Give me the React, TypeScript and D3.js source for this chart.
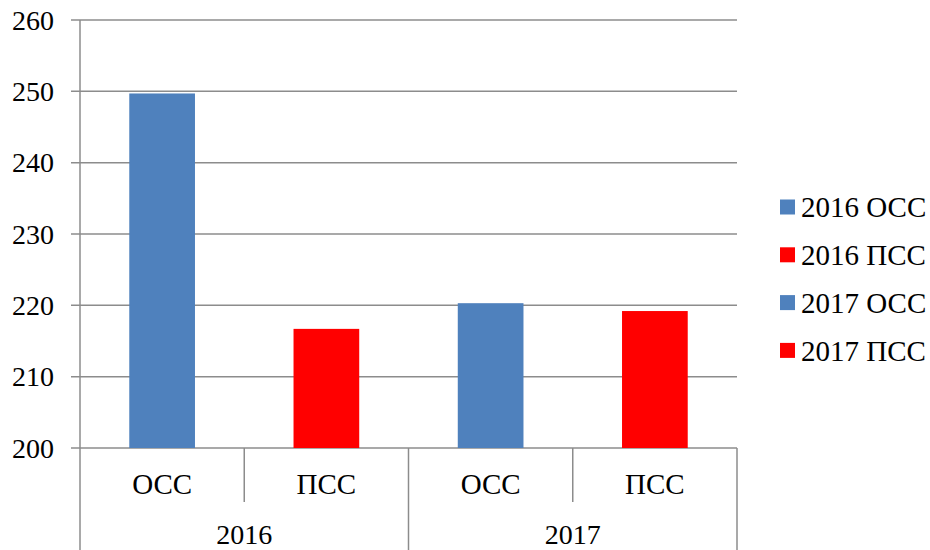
import React from 'react';
import * as d3 from 'd3';

const years = ["2016", "2017"];
const types = ["ОСС", "ПСС"];
const values = [249.7, 216.7, 220.3, 219.2];
const seriesNames = ["2016 ОСС", "2016 ПСС", "2017 ОСС", "2017 ПСС"];
const yTicks = [200, 210, 220, 230, 240, 250, 260];

const BLUE = "#4f81bd";
const RED = "#ff0000";
const GRID = "#8c8c8c";
const FONT = "Liberation Serif";

export default function App() {
    const width = 930, height = 550;
    const left = 80, right = 737, top = 20, bottom = 448;

    // categories: year x type
    const cats = years.flatMap(y => types.map(t => `${y}|${t}`));
    const x = d3.scaleBand().domain(cats).range([left, right]).padding(0);
    const y = d3.scaleLinear().domain([200, 260]).range([bottom, top]);
    const barW = x.bandwidth() * 0.4;
    const bounds = d3.range(cats.length + 1).map(i => left + i * x.step());

    return (
        <div style={{ position: "absolute", left: 0, top: 0 }}>
            <svg width={width} height={height} style={{ display: "block", background: "#fff" }}>
                {/* Grid */}
                {yTicks.map(t => (
                    <line key={t} x1={left - 9} x2={right} y1={y(t)} y2={y(t)} stroke={GRID} strokeWidth={1.5} />
                ))}
                {/* Y labels */}
                {yTicks.map(t => (
                    <text key={t} x={54} y={y(t)} dy="0.35em" textAnchor="end" fontFamily={FONT} fontSize={28}>{t}</text>
                ))}
                {/* Bars */}
                {values.map((v, i) => (
                    <rect key={i}
                        x={x(cats[i])! + (x.bandwidth() - barW) / 2}
                        y={y(v)}
                        width={barW}
                        height={y(200) - y(v)}
                        fill={i % 2 === 0 ? BLUE : RED} />
                ))}
                {/* Y axis */}
                <line x1={left} x2={left} y1={top} y2={bottom} stroke={GRID} strokeWidth={1.5} />
                {/* Category separators */}
                {bounds.map((b, i) => (
                    <line key={i} x1={b} x2={b} y1={bottom} y2={i % 2 === 0 ? 550 : 502} stroke={GRID} strokeWidth={1.5} />
                ))}
                {/* Type labels */}
                {cats.map(c => (
                    <text key={c} x={x(c)! + x.bandwidth() / 2} y={494} textAnchor="middle" fontFamily={FONT} fontSize={29}>
                        {c.split("|")[1]}
                    </text>
                ))}
                {/* Year labels */}
                {years.map(yr => (
                    <text key={yr}
                        x={(x(`${yr}|${types[0]}`)! + x(`${yr}|${types[1]}`)! + x.bandwidth()) / 2}
                        y={544} textAnchor="middle" fontFamily={FONT} fontSize={28}>
                        {yr}
                    </text>
                ))}
                {/* Legend */}
                {seriesNames.map((s, i) => (
                    <g key={s} transform={`translate(780,${207 + i * 47.8})`}>
                        <rect x={0} y={-7.5} width={15} height={15} fill={i % 2 === 0 ? BLUE : RED} />
                        <text x={21} y={0} dy="0.35em" fontFamily={FONT} fontSize={29}>{s}</text>
                    </g>
                ))}
            </svg>
        </div>
    );
}
